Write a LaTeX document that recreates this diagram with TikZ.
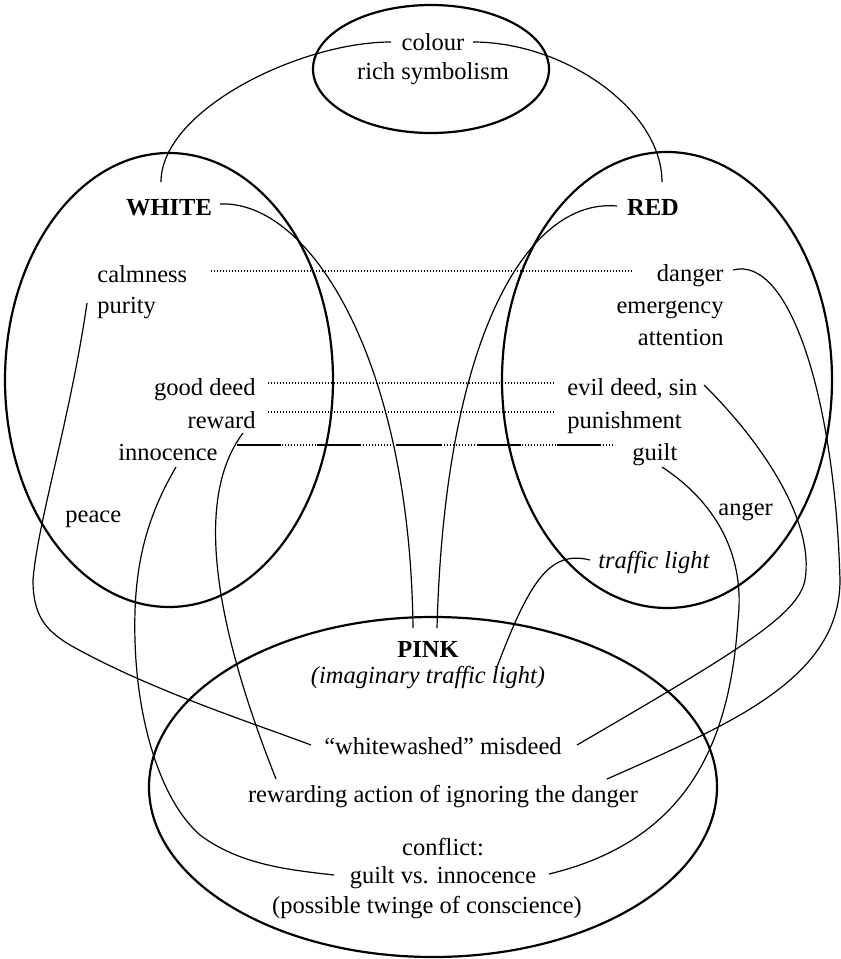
\documentclass[tikz,border=0pt]{standalone}
\usepackage{fontspec}
\setmainfont{Liberation Serif}
\usetikzlibrary{shapes.geometric}
\begin{document}
\begin{tikzpicture}[x=0.5pt,y=-0.5pt,
  ell/.style={draw, ellipse, line width=1.1pt, inner sep=0pt},
  txt/.style={inner sep=0pt, font=\fontsize{12.25}{14}\selectfont},
  lbl/.style={inner sep=0pt, font=\fontsize{12.25}{14}\selectfont\bfseries},
  ital/.style={inner sep=0pt, font=\fontsize{12.25}{14}\selectfont\itshape},
  conn/.style={line width=0.6pt},
  dotline/.style={line width=0.55pt, dash pattern=on 0.55pt off 0.95pt},
  thickdash/.style={line width=1.1pt, dash pattern=on 22pt off 18pt}]
\useasboundingbox (0,0) rectangle (841,959);

% ellipses
\node[ell, minimum width=118pt, minimum height=64pt] (topE) at (431,69) {};
\node[ell, minimum width=164pt, minimum height=227pt] (whiteE) at (169,380) {};
\node[ell, minimum width=165pt, minimum height=228pt] (redE) at (667,380) {};
\node[ell, minimum width=284pt, minimum height=170pt] (pinkE) at (433,787) {};

% texts
\node[txt, anchor=base] (colour) at (433,50) {colour};
\node[txt, anchor=base] (rich) at (433,79) {rich symbolism};
\node[lbl, anchor=base] (white) at (169,215) {WHITE};
\node[lbl, anchor=base] (red) at (653,215) {RED};
\node[txt, anchor=base west] (calm) at (97,282) {calmness};
\node[txt, anchor=base west] (purity) at (97,313) {purity};
\node[txt, anchor=base east] (good) at (256,395) {good deed};
\node[txt, anchor=base east] (reward) at (256,428) {reward};
\node[txt, anchor=base east] (innoc) at (218,460) {innocence};
\node[txt, anchor=base west] (peace) at (65,522) {peace};
\node[txt, anchor=base east] (danger) at (724,281) {danger};
\node[txt, anchor=base east] (emerg) at (724,313) {emergency};
\node[txt, anchor=base east] (attn) at (724,345) {attention};
\node[txt, anchor=base west] (evil) at (567,395) {evil deed, sin};
\node[txt, anchor=base west] (punish) at (567,428) {punishment};
\node[txt, anchor=base west] (guilt) at (632,460) {guilt};
\node[txt, anchor=base west] (anger) at (718,515) {anger};
\node[ital, anchor=base west] (traffic) at (598,568) {traffic light};
\node[lbl, anchor=base] (pink) at (428,657) {PINK};
\node[ital, anchor=base] (imag) at (428,683) {(imaginary traffic light)};
\node[txt, anchor=base] (wwash) at (443,754) {“whitewashed” misdeed};
\node[txt, anchor=base] (rewarding) at (443,802) {rewarding action of ignoring the danger};
\node[txt, anchor=base] (conflict) at (443,855) {conflict:};
\node[txt, anchor=base] (gvi) at (443,883) {guilt vs. innocence};
\node[txt, anchor=base] (twinge) at (427,913) {(possible twinge of conscience)};

% connector end points
\coordinate (cL) at (391,42);
\coordinate (cR) at (473,42);
\coordinate (wT) at (161,182);
\coordinate (rT) at (662,182);
\coordinate (wE) at (220,204);
\coordinate (rW) at (617,206);
\coordinate (pTL) at (413,628);
\coordinate (pTR) at (437,628);
\coordinate (purL) at (87,303);
\coordinate (wwL) at (311,745);
\coordinate (wwR) at (577,745);
\coordinate (rewS) at (243,433);
\coordinate (raL) at (276,779);
\coordinate (raR) at (607,779);
\coordinate (innS) at (176,467);
\coordinate (gviL) at (334,875);
\coordinate (gviR) at (549,874);
\coordinate (dangE) at (733,270);
\coordinate (evilE) at (704,385);
\coordinate (guiltS) at (662,467);
\coordinate (tlW) at (590,560);
\coordinate (imagT) at (497,667);
\coordinate (calmE) at (211,271);
\coordinate (dangW) at (632,271);
\coordinate (goodE) at (268,383);
\coordinate (evilW) at (555,383);
\coordinate (rewE) at (268,412);
\coordinate (punW) at (555,412);
\coordinate (innE) at (237,445);
\coordinate (guiltW) at (615,445);

% connectors
\draw[conn] (cL) .. controls (300,42) and (161,110) .. (wT);
\draw[conn] (cR) .. controls (565,42) and (662,110) .. (rT);
\draw[conn] (wE) .. controls (310,200) and (410,360) .. (pTL);
\draw[conn] (rW) .. controls (530,198) and (445,330) .. (pTR);
\draw[conn] (purL) .. controls (70,420) and (38,520) .. (33,580)
  .. controls (33,615) and (45,630) .. (70,645)
  .. controls (150,690) and (250,722) .. (wwL);
\draw[conn] (rewS) .. controls (200,490) and (205,600) .. (raL);
\draw[conn] (innS) .. controls (145,520) and (133,570) .. (135,640)
  .. controls (137,720) and (160,800) .. (200,835)
  .. controls (240,865) and (290,870) .. (gviL);
\draw[conn] (dangE) .. controls (790,255) and (835,400) .. (840,580)
  .. controls (840,640) and (800,680) .. (740,715)
  .. controls (700,738) and (650,760) .. (raR);
\draw[conn] (evilE) .. controls (760,440) and (815,520) .. (805,580)
  .. controls (798,615) and (740,650) .. (wwR);
\draw[conn] (guiltS) .. controls (720,505) and (745,560) .. (738,620)
  .. controls (730,740) and (690,840) .. (gviR);
\draw[conn] (tlW) .. controls (550,550) and (530,580) .. (imagT);

% dotted correspondences
\draw[dotline] (calmE) -- (dangW);
\draw[dotline] (goodE) -- (evilW);
\draw[dotline] (rewE) -- (punW);
\draw[dotline] (innE) -- (guiltW);
\draw[thickdash] (innE) -- (guiltW);
\end{tikzpicture}
\end{document}
